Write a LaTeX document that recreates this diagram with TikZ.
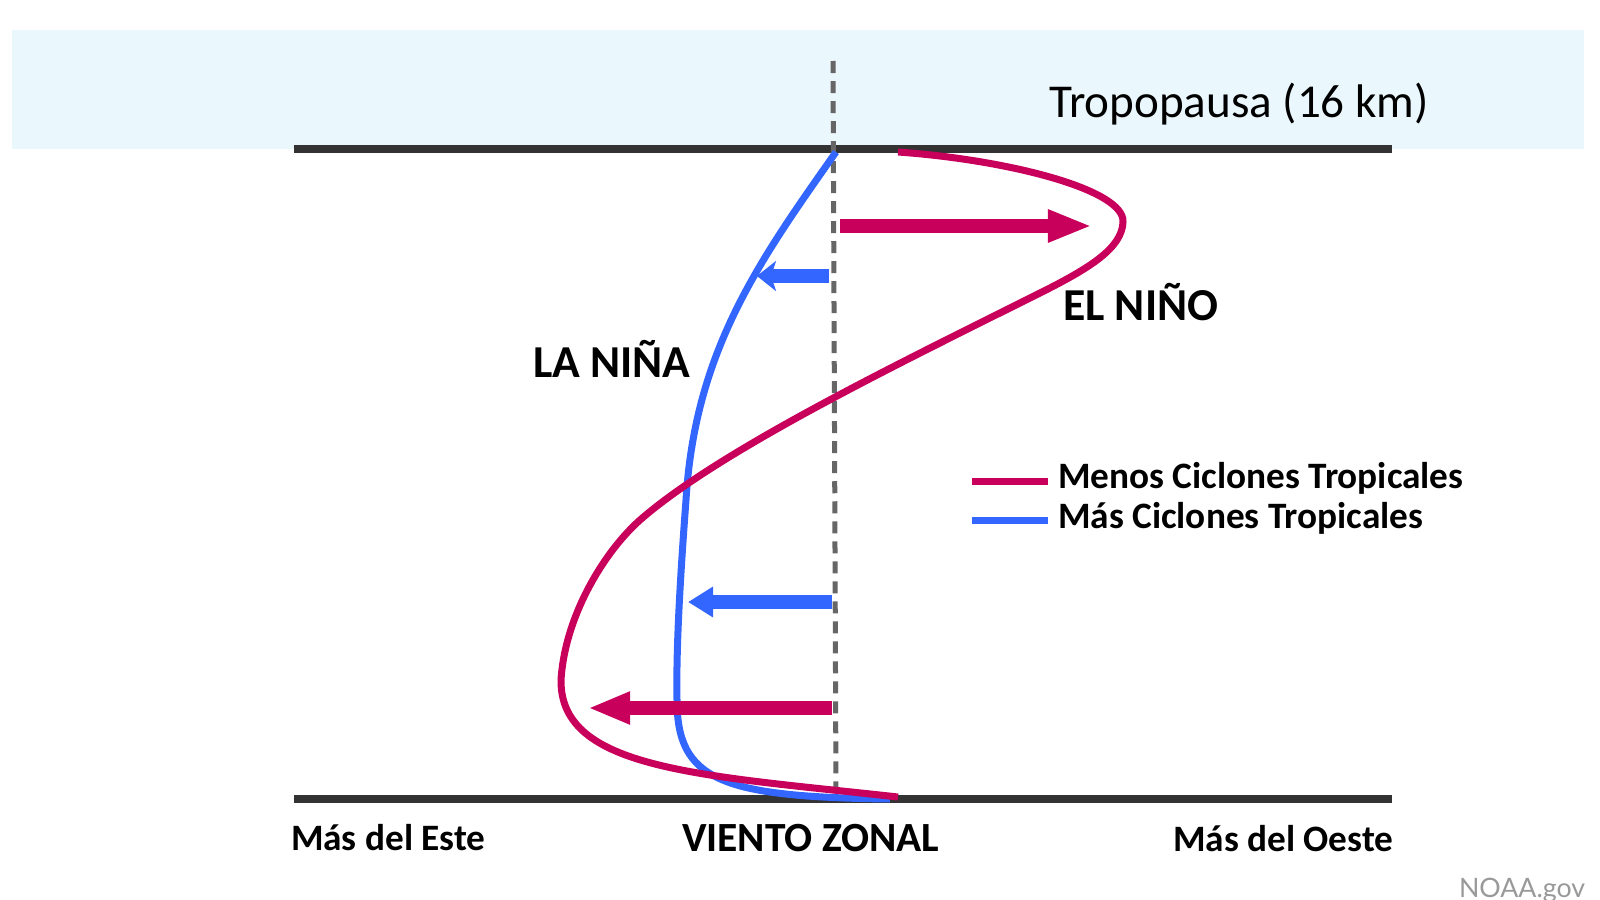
\documentclass[tikz,border=0pt]{standalone}
\usepackage{fontspec}
\setmainfont{Carlito}
\newfontfamily\noaafont{Lato}
\usetikzlibrary{arrows.meta}

\begin{document}
\begin{tikzpicture}
    [x=0.01cm, y=-0.01cm,
    %Option for the arrows
    >=Triangle,
    inner sep=0pt, outer sep=0pt,
    bound/.style={line width=0.8mm, color=boundgray},
    zero/.style={line width=0.5mm, color=zerogray, dash pattern=on 1.2mm off 0.8mm},
    windcurve/.style={line width=0.7mm, color=#1},
    windarrow/.style={line width=1.4mm, color=#1},
    caption/.style={font=\bfseries\fontsize{13}{15}\selectfont, anchor=base west},
    axislabel/.style={font=\bfseries\fontsize{10.6}{13}\selectfont, anchor=base west},
    legendtext/.style={font=\bfseries\fontsize{10.6}{13}\selectfont, anchor=base west}]

    % Colors
    \definecolor{ninored}{RGB}{200,0,92}
    \definecolor{ninablue}{RGB}{51,102,255}
    \definecolor{skyband}{RGB}{234,248,253}
    \definecolor{boundgray}{RGB}{51,51,51}
    \definecolor{zerogray}{RGB}{102,102,102}

    \useasboundingbox (0,0) rectangle (1600,900);
    \clip (0,0) rectangle (1600,900);

    % Stratosphere band
    \fill[skyband] (12,30) rectangle (1584,149);
    \node[anchor=base west, font=\fontsize{13.4}{16}\selectfont] (tropo) at (1049,117) {Tropopausa (16 km)};

    % Frame
    \coordinate (topL) at (294,149);
    \coordinate (topR) at (1392,149);
    \coordinate (botL) at (294,799);
    \coordinate (botR) at (1392,799);
    \draw[bound] (topL) -- (topR);
    \draw[bound] (botL) -- (botR);
    \draw[zero] (833,61) -- (836,796);

    % La Nina profile
    \draw[windcurve=ninablue] (836,152) .. controls (760,260) and (695,350) .. (686,500)
        .. controls (680,580) and (676,650) .. (677,700)
        .. controls (677,780) and (720,797) .. (890,799);

    % El Nino profile
    \draw[windcurve=ninored] (898,152) .. controls (1010,160) and (1125,190) .. (1123,222)
        .. controls (1122,248) and (1090,268) .. (1040,293)
        .. controls (900,363) and (720,450) .. (640,520)
        .. controls (605,551) and (565,615) .. (561,680)
        .. controls (560,770) and (700,775) .. (898,797);

    % Wind anomaly arrows
    \draw[windarrow=ninored, -{Triangle[length=4.4mm, width=3mm]}] (840,226) -- (1092,226);
    \draw[windarrow=ninablue, -{Stealth[length=1.9mm, width=3mm, inset=0.5mm]}] (829,276) -- (757,276);
    \draw[windarrow=ninablue, -{Triangle[length=2.5mm, width=2.9mm]}] (832,602) -- (688,602);
    \draw[windarrow=ninored, -{Triangle[length=4.2mm, width=3mm]}] (832,708) -- (588,708);

    % Labels
    \node[caption] (elnino) at (1063,320) {EL NIÑO};
    \node[caption] (lanina) at (533,377) {LA NIÑA};

    % Legend
    \draw[windcurve=ninored] (972,481) -- (1048,481);
    \draw[windcurve=ninablue] (972,520) -- (1048,520);
    \node[legendtext] (menos) at (1058,488) {Menos Ciclones Tropicales};
    \node[legendtext] (mas) at (1058,528) {Más Ciclones Tropicales};

    % Axis
    \node[axislabel] (este) at (291,850) {Más del Este};
    \node[axislabel, font=\bfseries\fontsize{11.8}{14}\selectfont] (zonal) at (682,851) {VIENTO ZONAL};
    \node[axislabel] (oeste) at (1173,851) {Más del Oeste};

    \node[anchor=base west, font=\noaafont\fontsize{7.6}{9}\selectfont, text=gray!80] (noaa) at (1459,897) {NOAA.gov};
\end{tikzpicture}
\end{document}
